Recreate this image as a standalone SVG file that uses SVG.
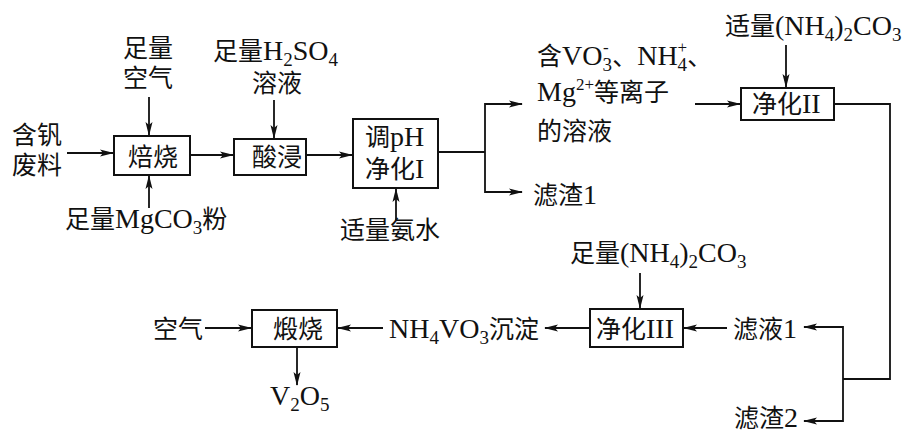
<svg xmlns="http://www.w3.org/2000/svg" width="909" height="432" viewBox="0 0 909 432">
<defs>
<marker id="ah" markerWidth="14" markerHeight="10" refX="13" refY="5" orient="auto" markerUnits="userSpaceOnUse">
<path d="M0,1.5 L14,5 L0,8.5 L3,5 Z" fill="#111"/>
</marker>
</defs>
<style>
.t{font-family:"Liberation Serif","Noto Sans CJK SC",serif;font-size:25px;fill:#111}
.L{font-size:28px}
.s{font-size:19px}
.p{font-size:17px}
.b{fill:#fff;stroke:#111;stroke-width:2}
.c{fill:none;stroke:#111;stroke-width:1.8}
.a{marker-end:url(#ah)}
</style>
<rect width="909" height="432" fill="#fff"/>
<g id="connectors">
<line class="c a" x1="67" y1="153" x2="113" y2="153"/>
<line class="c a" x1="149" y1="97" x2="149" y2="135"/>
<line class="c a" x1="149" y1="208" x2="149" y2="176"/>
<line class="c a" x1="190" y1="155" x2="233" y2="155"/>
<line class="c a" x1="274" y1="100" x2="274" y2="138"/>
<line class="c a" x1="306" y1="155" x2="352" y2="155"/>
<line class="c a" x1="396" y1="220" x2="396" y2="189"/>
<polyline class="c" points="438,152 485,152"/>
<polyline class="c a" points="485,152 485,104 522,104"/>
<polyline class="c a" points="485,152 485,192 522,192"/>
<line class="c a" x1="695" y1="104" x2="740" y2="104"/>
<line class="c a" x1="786" y1="45" x2="786" y2="87"/>
<polyline class="c" points="834,104 890,104 890,379 843,379"/>
<polyline class="c a" points="843,379 843,327 804,327"/>
<polyline class="c a" points="843,379 843,421 804,421"/>
<line class="c a" x1="727" y1="328" x2="684" y2="328"/>
<line class="c a" x1="640" y1="273" x2="640" y2="308"/>
<line class="c a" x1="590" y1="328" x2="545" y2="328"/>
<line class="c a" x1="383" y1="328" x2="338" y2="328"/>
<line class="c a" x1="205" y1="328" x2="251" y2="328"/>
<line class="c a" x1="297" y1="347" x2="297" y2="385"/>
</g>
<g id="feed"><text class="t" x="12" y="144">含钒</text><text class="t" x="12" y="174">废料</text></g>
<g id="air1"><text class="t" x="123" y="57">足量</text><text class="t" x="123" y="87">空气</text></g>
<g id="roast"><rect class="b" x="114" y="136" width="76" height="39"/><text class="t" x="128" y="166">焙烧</text></g>
<g id="mgco3"><text class="t" x="65" y="228">足量<tspan class="L">MgCO</tspan><tspan class="s" dy="6">3</tspan><tspan dy="-6">粉</tspan></text></g>
<g id="h2so4"><text class="t" x="213" y="60">足量<tspan class="L">H</tspan><tspan class="s" dy="6">2</tspan><tspan class="L" dy="-6">SO</tspan><tspan class="s" dy="6">4</tspan></text><text class="t" x="252" y="92">溶液</text></g>
<g id="leach"><rect class="b" x="234" y="139" width="72" height="36"/><text class="t" x="252" y="166">酸浸</text></g>
<g id="purify1"><rect class="b" x="353" y="119" width="85" height="69"/><text class="t" x="365" y="146">调<tspan class="L">pH</tspan></text><text class="t" x="365" y="178">净化<tspan class="L">I</tspan></text></g>
<g id="ammonia"><text class="t" x="340" y="239">适量氨水</text></g>
<g id="solution"><text class="t" x="537" y="65">含<tspan class="L">VO</tspan><tspan class="s" dy="6">3</tspan><tspan class="p" dx="-9" dy="-18">-</tspan><tspan dx="3.5" dy="12">、</tspan><tspan class="L">NH</tspan><tspan class="s" dy="6">4</tspan><tspan class="p" dx="-9.5" dy="-18">+</tspan><tspan dy="12">、</tspan></text><text class="t" x="537" y="101"><tspan class="L">Mg</tspan><tspan class="p" dy="-11">2+</tspan><tspan dy="11">等离子</tspan></text><text class="t" x="537" y="140">的溶液</text></g>
<g id="residue1"><text class="t" x="533" y="204">滤渣<tspan class="L">1</tspan></text></g>
<g id="purify2"><rect class="b" x="741" y="88" width="93" height="32"/><text class="t" x="752" y="113">净化<tspan class="L">II</tspan></text></g>
<g id="nh4co3a"><text class="t" x="725" y="35">适量<tspan class="L">(NH</tspan><tspan class="s" dy="6">4</tspan><tspan class="L" dy="-6">)</tspan><tspan class="s" dy="6">2</tspan><tspan class="L" dy="-6">CO</tspan><tspan class="s" dy="6">3</tspan></text></g>
<g id="filtrate1"><text class="t" x="733" y="338">滤液<tspan class="L">1</tspan></text></g>
<g id="residue2"><text class="t" x="734" y="427">滤渣<tspan class="L">2</tspan></text></g>
<g id="nh4co3b"><text class="t" x="570" y="262">足量<tspan class="L">(NH</tspan><tspan class="s" dy="6">4</tspan><tspan class="L" dy="-6">)</tspan><tspan class="s" dy="6">2</tspan><tspan class="L" dy="-6">CO</tspan><tspan class="s" dy="6">3</tspan></text></g>
<g id="purify3"><rect class="b" x="590" y="309" width="93" height="38"/><text class="t" x="596" y="338">净化<tspan class="L">III</tspan></text></g>
<g id="precip"><text class="t" x="389" y="338"><tspan class="L">NH</tspan><tspan class="s" dy="6">4</tspan><tspan class="L" dy="-6">VO</tspan><tspan class="s" dy="6">3</tspan><tspan dy="-6">沉淀</tspan></text></g>
<g id="calcine"><rect class="b" x="252" y="310" width="85" height="37"/><text class="t" x="273" y="338">煅烧</text></g>
<g id="air2"><text class="t" x="153" y="338">空气</text></g>
<g id="v2o5"><text class="t" x="270" y="405"><tspan class="L">V</tspan><tspan class="s" dy="6">2</tspan><tspan class="L" dy="-6">O</tspan><tspan class="s" dy="6">5</tspan></text></g>
</svg>
